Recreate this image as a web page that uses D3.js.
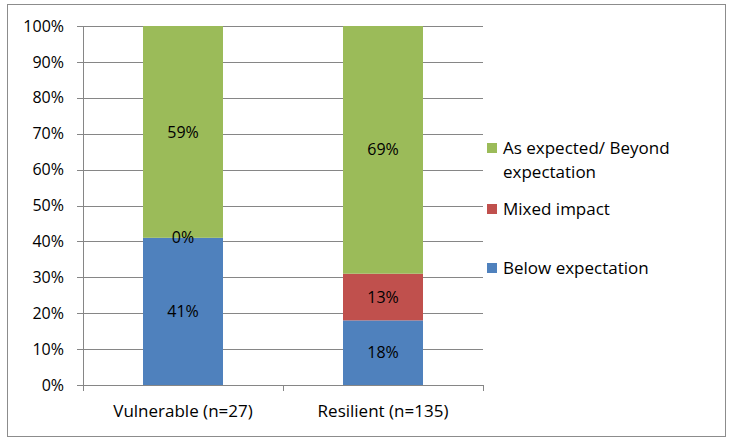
<!DOCTYPE html>
<html><head><meta charset="utf-8">
<script src="https://cdn.jsdelivr.net/npm/d3@7"></script>
<style>body{margin:0;background:#fff}svg text{font-family:"Open Sans",sans-serif;}</style>
</head><body><svg id="c" width="739" height="448"></svg>
<script>
const categories = ["Vulnerable (n=27)", "Resilient (n=135)"];
const seriesNames = ["Below expectation", "Mixed impact", "As expected/ Beyond expectation"];
const below = [41, 18];
const mixed = [0, 13];
const asExpected = [59, 69];
const yTicks = [0,10,20,30,40,50,60,70,80,90,100];
const colors = ["#4F81BD", "#C0504D", "#9BBB59"];

(function(){
const svg = d3.select("#c");
svg.append("rect").attr("x",7.5).attr("y",4.5).attr("width",718).attr("height",432)
  .attr("fill","#fff").attr("stroke","#8c8c8c").attr("stroke-width",1);

const pLeft=83, pRight=483, pTop=26, pBottom=385;
const fs=16, fsw=17;
const x = d3.scaleBand().domain(categories).range([pLeft,pRight]).paddingInner(0.6).paddingOuter(0.3);
const y = d3.scaleLinear().domain([0,100]).range([pBottom,pTop]);

svg.append("g").selectAll("line").data(yTicks).join("line")
  .attr("x1",pLeft-6).attr("x2",pRight).attr("y1",d=>Math.round(y(d))+0.5).attr("y2",d=>Math.round(y(d))+0.5)
  .attr("stroke","#868686").attr("stroke-width",1);

const data = categories.map((c,i)=>({cat:c, "Below expectation":below[i], "Mixed impact":mixed[i], "As expected/ Beyond expectation":asExpected[i]}));
const stack = d3.stack().keys(seriesNames)(data);

stack.forEach((s,si)=>{
  svg.append("g").selectAll("rect").data(s).join("rect")
    .attr("x",d=>x(d.data.cat)).attr("width",x.bandwidth())
    .attr("y",d=>y(d[1])).attr("height",d=>y(d[0])-y(d[1]))
    .attr("fill",colors[si]);
});
stack.forEach((s,si)=>{
  svg.append("g").selectAll("text").data(s).join("text")
    .attr("x",d=>x(d.data.cat)+x.bandwidth()/2)
    .attr("y",d=>(y(d[0])+y(d[1]))/2)
    .attr("dy","0.35em").attr("text-anchor","middle")
    .attr("font-size",fs).attr("fill","#000")
    .text(d=>(d[1]-d[0])+"%");
});

svg.append("line").attr("x1",pLeft+0.5).attr("x2",pLeft+0.5).attr("y1",pTop).attr("y2",pBottom).attr("stroke","#868686");
svg.append("g").selectAll("text").data(yTicks).join("text")
  .attr("x",64).attr("y",d=>y(d)).attr("dy","0.35em").attr("text-anchor","end")
  .attr("font-size",fs).attr("fill","#000").text(d=>d+"%");
const xTickPos=[pLeft, (x(categories[0])+x.bandwidth()+x(categories[1]))/2, pRight];
svg.append("g").selectAll("line").data(xTickPos).join("line")
  .attr("x1",d=>Math.round(d)+0.5).attr("x2",d=>Math.round(d)+0.5).attr("y1",pBottom).attr("y2",pBottom+6).attr("stroke","#868686");
svg.append("g").selectAll("text").data(categories).join("text")
  .attr("x",d=>x(d)+x.bandwidth()/2).attr("y",411).attr("dy","0.35em").attr("text-anchor","middle")
  .attr("font-size",fsw).attr("fill","#000").text(d=>d);

const legend = [
  {lines:["As expected/ Beyond","expectation"], c:colors[2], y:148},
  {lines:["Mixed impact"], c:colors[1], y:209},
  {lines:["Below expectation"], c:colors[0], y:268}
];
legend.forEach(l=>{
  svg.append("rect").attr("x",487).attr("y",l.y-5).attr("width",10).attr("height",10).attr("fill",l.c);
  l.lines.forEach((t,i)=>{
    svg.append("text").attr("x",503).attr("y",l.y+i*24).attr("dy","0.35em").attr("font-size",fsw).attr("fill","#000").text(t);
  });
});
})();
</script></body></html>
